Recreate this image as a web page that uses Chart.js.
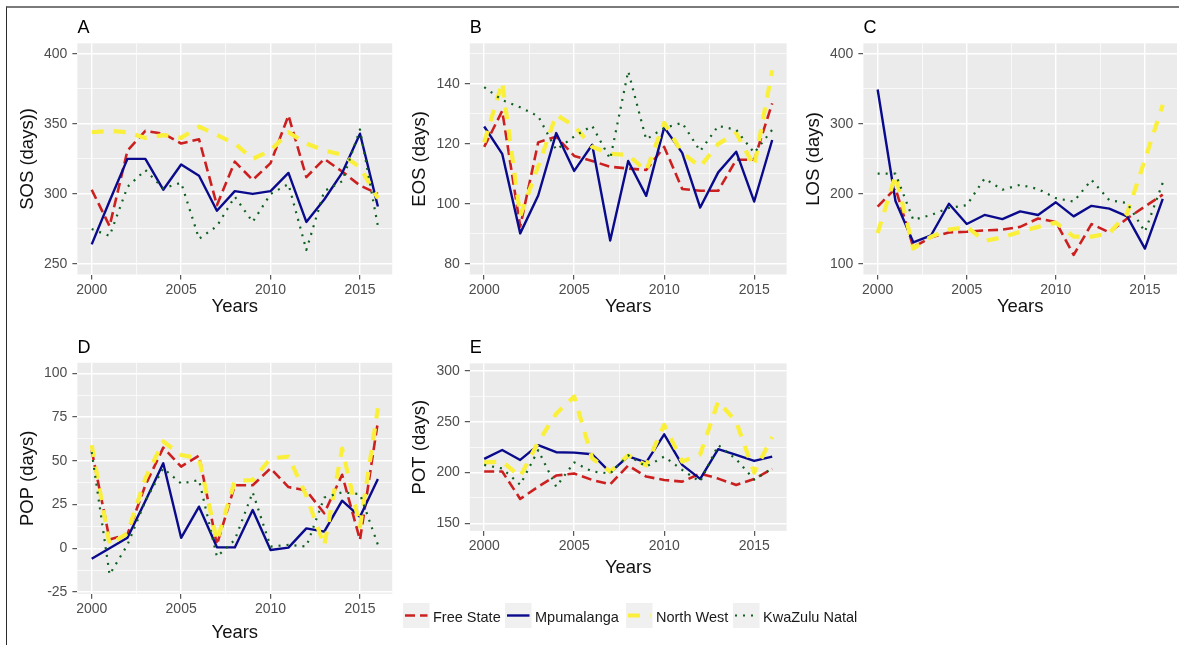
<!DOCTYPE html>
<html>
<head>
<meta charset="utf-8">
<title>Phenology metrics by province, 2000-2016</title>
<script src="https://cdn.jsdelivr.net/npm/chart.js@4.4.1/dist/chart.umd.min.js"></script>
<style>
  html, body { margin: 0; padding: 0; background: #fff; }
  #figure { position: relative; width: 1179px; height: 645px; overflow: hidden; }
  #frame { position: absolute; left: 6px; top: 6px; width: 1200px; height: 700px;
           border-top: 2px solid #7a7a7a; border-left: 1.5px solid #2a2a2a; }
  canvas { position: absolute; }
</style>
</head>
<body>
<div id="figure">
  <div id="frame"></div>
  <canvas id="chartA" width="395" height="320" style="left:0px;top:0px"></canvas>
  <canvas id="chartB" width="395" height="320" style="left:392px;top:0px"></canvas>
  <canvas id="chartC" width="393" height="320" style="left:786px;top:0px"></canvas>
  <canvas id="chartD" width="395" height="320" style="left:0px;top:325px"></canvas>
  <canvas id="chartE" width="490" height="320" style="left:392px;top:325px"></canvas>
</div>
<script>
// Provinces and years
const provinces = ['Free State', 'Mpumalanga', 'North West', 'KwaZulu Natal'];
const years = [2000, 2001, 2002, 2003, 2004, 2005, 2006, 2007, 2008, 2009, 2010, 2011, 2012, 2013, 2014, 2015, 2016];
const yearTicks = [2000, 2005, 2010, 2015];

// A - start of season
const sosFreeState = [303, 277, 331, 345, 343, 336, 339, 292, 323, 310, 322, 356, 312, 325, 316, 306, 300];
const sosMpumalanga = [264, 295, 325, 325, 303, 321, 313, 288, 302, 300, 302, 315, 280, 296, 315, 343, 291];
const sosNorthWest = [344, 345, 344, 340, 342, 340, 348, 342, 336, 325, 331, 344, 336, 331, 328, 319, 297];
const sosKwaZulu = [275, 270, 305, 317, 304, 308, 268, 277, 298, 280, 300, 307, 260, 302, 309, 346, 277];
const sosTicks = [250, 300, 350, 400];

// B - end of season
const eosFreeState = [119, 131, 92.5, 120.5, 122.4, 116, 114.3, 112.4, 111.8, 111.3, 119, 105, 104.4, 104.4, 114.7, 114.7, 133.5];
const eosMpumalanga = [125.8, 116.7, 90.2, 102.8, 123.6, 111, 119.7, 87.8, 114.3, 102.7, 125.5, 117, 98.8, 110.5, 117.4, 100.8, 121.3];
const eosNorthWest = [120.5, 140.5, 96, 112.5, 129.7, 126, 119, 116.7, 116.3, 111, 127, 117, 112.4, 120, 123.6, 112.5, 144.5];
const eosKwaZulu = [138.9, 134.6, 132.2, 129.2, 118, 122.5, 126, 115, 144.2, 121.5, 125.3, 127, 117.6, 126, 124.7, 117, 124.7];
const eosTicks = [80, 100, 120, 140];

// C - length of season
const losFreeState = [182, 208, 124, 138, 145, 146, 148, 149, 153, 165, 160, 113, 157, 145, 165, 182, 199];
const losMpumalanga = [349, 190, 131, 141, 186, 157, 170, 164, 175, 170, 188, 168, 183, 179, 168, 122, 193];
const losNorthWest = [144, 227, 122, 139, 149, 153, 133, 138, 146, 153, 159, 139, 139, 144, 172, 249, 327];
const losKwaZulu = [229, 229, 163, 170, 180, 184, 222, 206, 213, 207, 194, 189, 220, 191, 187, 146, 216];
const losTicks = [100, 200, 300, 400];

// D - peak of productivity
const popFreeState = [56, 5, 8, 36, 57.5, 46.7, 53, 2, 36, 36, 45.7, 35, 33, 20, 42, 4.8, 72.4];
const popMpumalanga = [-6, 0, 6, 27, 48.6, 6, 23.8, 0.6, 0.5, 21.9, -1, 0.4, 11.4, 9.5, 27.2, 18, 39.6];
const popNorthWest = [59, 2, 8.6, 40, 61, 53.3, 51.4, 4, 38.5, 39, 51.4, 52.4, 30, 1.5, 57, 12.4, 80];
const popKwaZulu = [55, -15, 2, 27, 45.7, 37, 39, -4.8, 4.8, 32, 1, 2, 1, 29, 32, 31, 2];
const popTicks = [-25, 0, 25, 50, 75, 100];

// E - peak of time
const potFreeState = [201, 201, 174, 186, 197, 199, 192.7, 188.4, 207, 196, 192.7, 191, 199, 194, 187.8, 193.7, 203.5];
const potMpumalanga = [213.4, 222.2, 212.4, 227, 220, 219.6, 218, 200.2, 216, 210, 237.6, 207.5, 193.7, 223, 217.3, 211.4, 215.7];
const potNorthWest = [210, 210.7, 196, 230, 258, 275, 214, 201, 217, 207, 247, 210.7, 218, 270, 250, 200, 235];
const potKwaZulu = [207.5, 204, 188, 222, 186, 210, 201, 199, 217, 205.8, 215.7, 202.5, 191, 227, 213, 193, 204];
const potTicks = [150, 200, 250, 300];

// line look per province, same order as provinces
const lineStyles = [
    { color: '#CC2020', width: 2.6, dash: [10, 5], cap: 'butt' },
    { color: '#0A0A8C', width: 2.4, dash: [], cap: 'butt' },
    { color: '#FAF03C', width: 4.2, dash: [12, 10], cap: 'butt' },
    { color: '#0F5F1F', width: 2.2, dash: [2, 6], cap: 'butt' }
];

const FONT = "'Liberation Sans', Arial, sans-serif";

// scale range with ggplot's 5% padding
function expand(lo, hi) {
    const pad = (hi - lo) * 0.05;
    return [lo - pad, hi + pad];
}

// majors plus half-step minor lines that fall inside the range
function gridValues(majors, min, max) {
    const step = majors[1] - majors[0];
    const values = [];
    for (let v = majors[0] - step; v <= majors[majors.length - 1] + step + 1e-9; v += step / 2) {
        if (v >= min - 1e-9 && v <= max + 1e-9) values.push(Math.round(v * 1000) / 1000);
    }
    return values;
}

function isMajor(v, majors) {
    return majors.some(m => Math.abs(m - v) < 1e-6);
}

const panelBackground = {
    id: 'panelBackground',
    beforeDraw(chart) {
        const { ctx, chartArea: a } = chart;
        ctx.save();
        ctx.fillStyle = '#EBEBEB';
        ctx.fillRect(a.left, a.top, a.right - a.left, a.bottom - a.top);
        ctx.restore();
    },
    afterDraw(chart, args, opts) {
        if (!opts.letter) return;
        const { ctx, chartArea: a } = chart;
        ctx.save();
        ctx.fillStyle = '#000';
        ctx.font = '18px ' + FONT;
        ctx.textAlign = 'left';
        ctx.textBaseline = 'alphabetic';
        ctx.fillText(opts.letter, a.left, a.top - 10);
        ctx.restore();
    }
};

// shared legend under panel E
const provinceLegend = {
    id: 'provinceLegend',
    afterDraw(chart, args, opts) {
        if (!opts.show) return;
        const ctx = chart.ctx;
        const keyX = [11, 113, 234, 341];
        const keyY = 278, keyW = 26.5, keyH = 25;
        ctx.save();
        provinces.forEach((name, i) => {
            const st = lineStyles[i];
            ctx.fillStyle = '#F0F0F0';
            ctx.fillRect(keyX[i], keyY, keyW, keyH);
            ctx.beginPath();
            ctx.strokeStyle = st.color;
            ctx.lineWidth = st.width;
            ctx.setLineDash(st.dash);
            ctx.lineCap = st.cap;
            ctx.moveTo(keyX[i] + 2, keyY + keyH / 2);
            ctx.lineTo(keyX[i] + keyW - 2, keyY + keyH / 2);
            ctx.stroke();
            ctx.setLineDash([]);
            ctx.fillStyle = '#1A1A1A';
            ctx.font = '14.5px ' + FONT;
            ctx.textBaseline = 'alphabetic';
            ctx.fillText(name, keyX[i] + 30, keyY + 18.7);
        });
        ctx.restore();
    }
};

function makePanel(p) {
    const ctx = document.getElementById(p.id).getContext('2d');
    const [yMin, yMax] = expand(p.limits[0], p.limits[1]);
    const [xMin, xMax] = expand(2000, 2016);
    const yGrid = gridValues(p.ticks, yMin, yMax);
    const xGrid = gridValues(yearTicks, xMin, xMax);

    const datasets = p.series.map((vals, i) => ({
        label: provinces[i],
        data: years.map((yr, k) => ({ x: yr, y: vals[k] })),
        borderColor: lineStyles[i].color,
        borderWidth: lineStyles[i].width,
        borderDash: lineStyles[i].dash,
        borderCapStyle: lineStyles[i].cap,
        borderJoinStyle: 'round',
        pointRadius: 0,
        tension: 0,
        fill: false,
        order: 4 - i
    }));

    const gridStyle = (majors) => ({
        color: '#FFFFFF',
        lineWidth: c => (c.tick && isMajor(c.tick.value, majors) ? 1.4 : 0.7),
        tickColor: c => (c.tick && isMajor(c.tick.value, majors) ? '#333333' : 'rgba(0,0,0,0)'),
        tickLength: 5,
        tickWidth: 1,
        drawTicks: true
    });

    return new Chart(ctx, {
        type: 'line',
        data: { datasets: datasets },
        plugins: [panelBackground, provinceLegend],
        options: {
            responsive: false,
            animation: false,
            layout: { padding: { left: 0, top: p.box.padTop, right: p.box.padRight, bottom: 0 } },
            plugins: {
                legend: { display: false },
                tooltip: { enabled: false },
                panelBackground: { letter: p.letter },
                provinceLegend: { show: !!p.legend }
            },
            scales: {
                x: {
                    type: 'linear',
                    min: xMin,
                    max: xMax,
                    bounds: 'data',
                    afterBuildTicks: s => { s.ticks = xGrid.map(v => ({ value: v })); },
                    afterFit: s => { s.height = p.box.xAxisH; },
                    grid: gridStyle(yearTicks),
                    border: { display: false },
                    ticks: {
                        autoSkip: false,
                        maxRotation: 0,
                        padding: 2,
                        color: '#4D4D4D',
                        font: { family: FONT, size: 14 },
                        callback: v => (isMajor(v, yearTicks) ? String(v) : '')
                    },
                    title: {
                        display: true,
                        text: 'Years',
                        color: '#111',
                        font: { family: FONT, size: 18.5 },
                        padding: { top: 0, bottom: p.box.xTitlePad }
                    }
                },
                y: {
                    type: 'linear',
                    min: yMin,
                    max: yMax,
                    bounds: 'data',
                    afterBuildTicks: s => { s.ticks = yGrid.map(v => ({ value: v })); },
                    afterFit: s => { s.width = p.box.axisW; },
                    grid: gridStyle(p.ticks),
                    border: { display: false },
                    ticks: {
                        autoSkip: false,
                        padding: 5,
                        color: '#4D4D4D',
                        font: { family: FONT, size: 14 },
                        callback: v => (isMajor(v, p.ticks) ? String(v) : '')
                    },
                    title: {
                        display: true,
                        text: p.title,
                        color: '#111',
                        font: { family: FONT, size: 18.5 },
                        padding: { top: 17, bottom: 0 }
                    }
                }
            }
        }
    });
}

const rowTop = { padTop: 43.3, xAxisH: 45.5, xTitlePad: 2 };

const panels = [
    { id: 'chartA', letter: 'A', title: 'SOS (days))', limits: [250, 400], ticks: sosTicks,
      series: [sosFreeState, sosMpumalanga, sosNorthWest, sosKwaZulu],
      box: Object.assign({ axisW: 77.4, padRight: 2.8 }, rowTop) },
    { id: 'chartB', letter: 'B', title: 'EOS (days)', limits: [80, 150], ticks: eosTicks,
      series: [eosFreeState, eosMpumalanga, eosNorthWest, eosKwaZulu],
      box: Object.assign({ axisW: 77.8, padRight: 0.4 }, rowTop) },
    { id: 'chartC', letter: 'C', title: 'LOS (days)', limits: [100, 400], ticks: losTicks,
      series: [losFreeState, losMpumalanga, losNorthWest, losKwaZulu],
      box: Object.assign({ axisW: 77.4, padRight: 2 }, rowTop) },
    { id: 'chartD', letter: 'D', title: 'POP (days)', limits: [-20, 100], ticks: popTicks,
      series: [popFreeState, popMpumalanga, popNorthWest, popKwaZulu],
      box: { axisW: 77.4, padRight: 2.8, padTop: 37.8, xAxisH: 51.2, xTitlePad: 1.4 } },
    { id: 'chartE', letter: 'E', title: 'POT (days)', limits: [150, 300], ticks: potTicks,
      series: [potFreeState, potMpumalanga, potNorthWest, potKwaZulu], legend: true,
      box: { axisW: 77.8, padRight: 95.4, padTop: 38.4, xAxisH: 114.1, xTitlePad: 66.4 } }
];

panels.forEach(makePanel);
</script>
</body>
</html>
